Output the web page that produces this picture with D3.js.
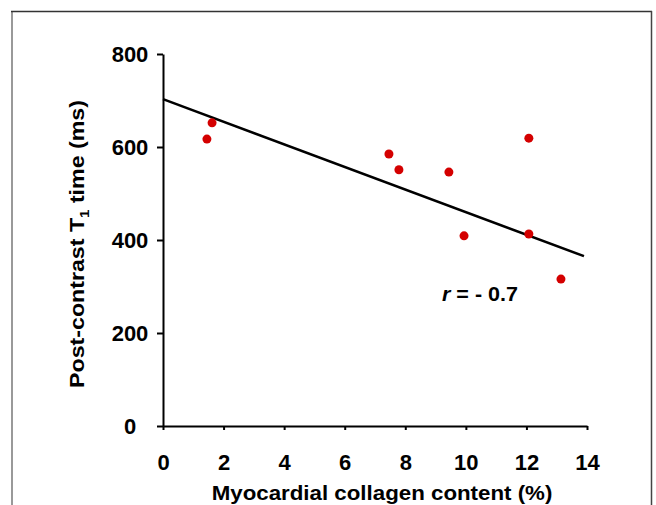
<!DOCTYPE html>
<html>
<head>
<meta charset="utf-8">
<script src="https://cdn.jsdelivr.net/npm/d3@7"></script>
<style>
    body { margin: 0; background: #fff; }
    svg { display: block; font-family: 'Liberation Sans', Arial, sans-serif; }
</style>
</head>
<body>
<svg id="chart"></svg>
<script>
const svgWidth = 656
const svgHeight = 505

// Myocardial collagen content (%) vs post-contrast T1 (ms)
const collagen = [1.45, 1.62, 7.46, 7.79, 9.44, 9.94, 12.08, 12.08, 13.14]
const t1Time = [617, 652, 585, 551, 546, 409, 619, 413, 316]

// regression line
const fitIntercept = 703
const fitSlope = -24.3
const fitEnd = 13.9

const xTicks = [0, 2, 4, 6, 8, 10, 12, 14]
const yTicks = [0, 200, 400, 600, 800]

const plot = { left: 163, right: 587, top: 54, bottom: 426 }

const svg = d3.select('#chart')
    .attr('width', svgWidth)
    .attr('height', svgHeight)

// the source font is a bit wider than Liberation Sans, so stretch text to the measured width
const stretchTo = (sel, width) => width / sel.node().getBBox().width

// frame around the figure (no bottom edge)
svg.append('line')
    .attr('x1', 12).attr('x2', 12).attr('y1', 11).attr('y2', svgHeight)
    .attr('stroke', '#999').attr('stroke-width', 2)
svg.append('line')
    .attr('x1', 11).attr('x2', 652).attr('y1', 11.5).attr('y2', 11.5)
    .attr('stroke', '#333').attr('stroke-width', 1.5)
svg.append('line')
    .attr('x1', 651.5).attr('x2', 651.5).attr('y1', 11).attr('y2', svgHeight)
    .attr('stroke', '#444').attr('stroke-width', 1.5)

const x = d3.scaleLinear().domain([0, 14]).range([plot.left, plot.right])
const y = d3.scaleLinear().domain([0, 800]).range([plot.bottom, plot.top])

const xAxis = svg.append('g')
    .attr('transform', `translate(0, ${plot.bottom})`)
    .call(
        d3.axisBottom(x)
            .tickValues(xTicks)
            .tickSize(4)
            .tickSizeOuter(0)
            .tickPadding(24)
    )

const yAxis = svg.append('g')
    .attr('transform', `translate(${plot.left}, 0)`)
    .call(
        d3.axisLeft(y)
            .tickValues(yTicks)
            .tickSize(6)
            .tickSizeOuter(0)
    )

for (const ax of [xAxis, yAxis]) {
    ax.selectAll('.domain, .tick line').attr('stroke', '#000').attr('stroke-width', 2)
    ax.selectAll('.tick text')
        .attr('fill', '#000')
        .style('font-size', '22px')
        .style('font-weight', 'bold')
        .style('font-family', "'Liberation Sans', Arial, sans-serif")
}

yAxis.selectAll('.tick text')
    .attr('x', -33)
    .attr('text-anchor', 'middle')

// fitted line
svg.append('line')
    .attr('x1', x(0)).attr('y1', y(fitIntercept))
    .attr('x2', x(fitEnd)).attr('y2', y(fitIntercept + fitSlope * fitEnd))
    .attr('stroke', '#000')
    .attr('stroke-width', 2.5)

svg.append('g')
    .selectAll('circle')
    .data(collagen.map((c, i) => ({ c, t: t1Time[i] })))
    .join('circle')
    .attr('cx', d => x(d.c))
    .attr('cy', d => y(d.t))
    .attr('r', 4.5)
    .attr('fill', '#d40000')

const rLabel = svg.append('text')
    .style('font-size', '21px')
    .style('font-weight', 'bold')
rLabel.append('tspan').style('font-style', 'italic').text('r')
rLabel.append('tspan').text(' = - 0.7')
rLabel.attr('transform', `translate(442, 301) scale(${stretchTo(rLabel, 76)}, 1)`)

const xTitle = svg.append('text')
    .attr('text-anchor', 'middle')
    .style('font-size', '20px')
    .style('font-weight', 'bold')
    .text('Myocardial collagen content (%)')
xTitle.attr('transform', `translate(382, 500) scale(${stretchTo(xTitle, 341)}, 1)`)

const yTitle = svg.append('text')
    .attr('text-anchor', 'middle')
    .style('font-size', '20px')
    .style('font-weight', 'bold')
yTitle.append('tspan').text('Post-contrast T')
yTitle.append('tspan').attr('dy', 5).style('font-size', '13px').text('1')
yTitle.append('tspan').attr('dy', -5).text(' time (ms)')
yTitle.attr('transform', `translate(84, 244) rotate(-90) scale(${stretchTo(yTitle, 288)}, 1)`)
</script>
</body>
</html>
